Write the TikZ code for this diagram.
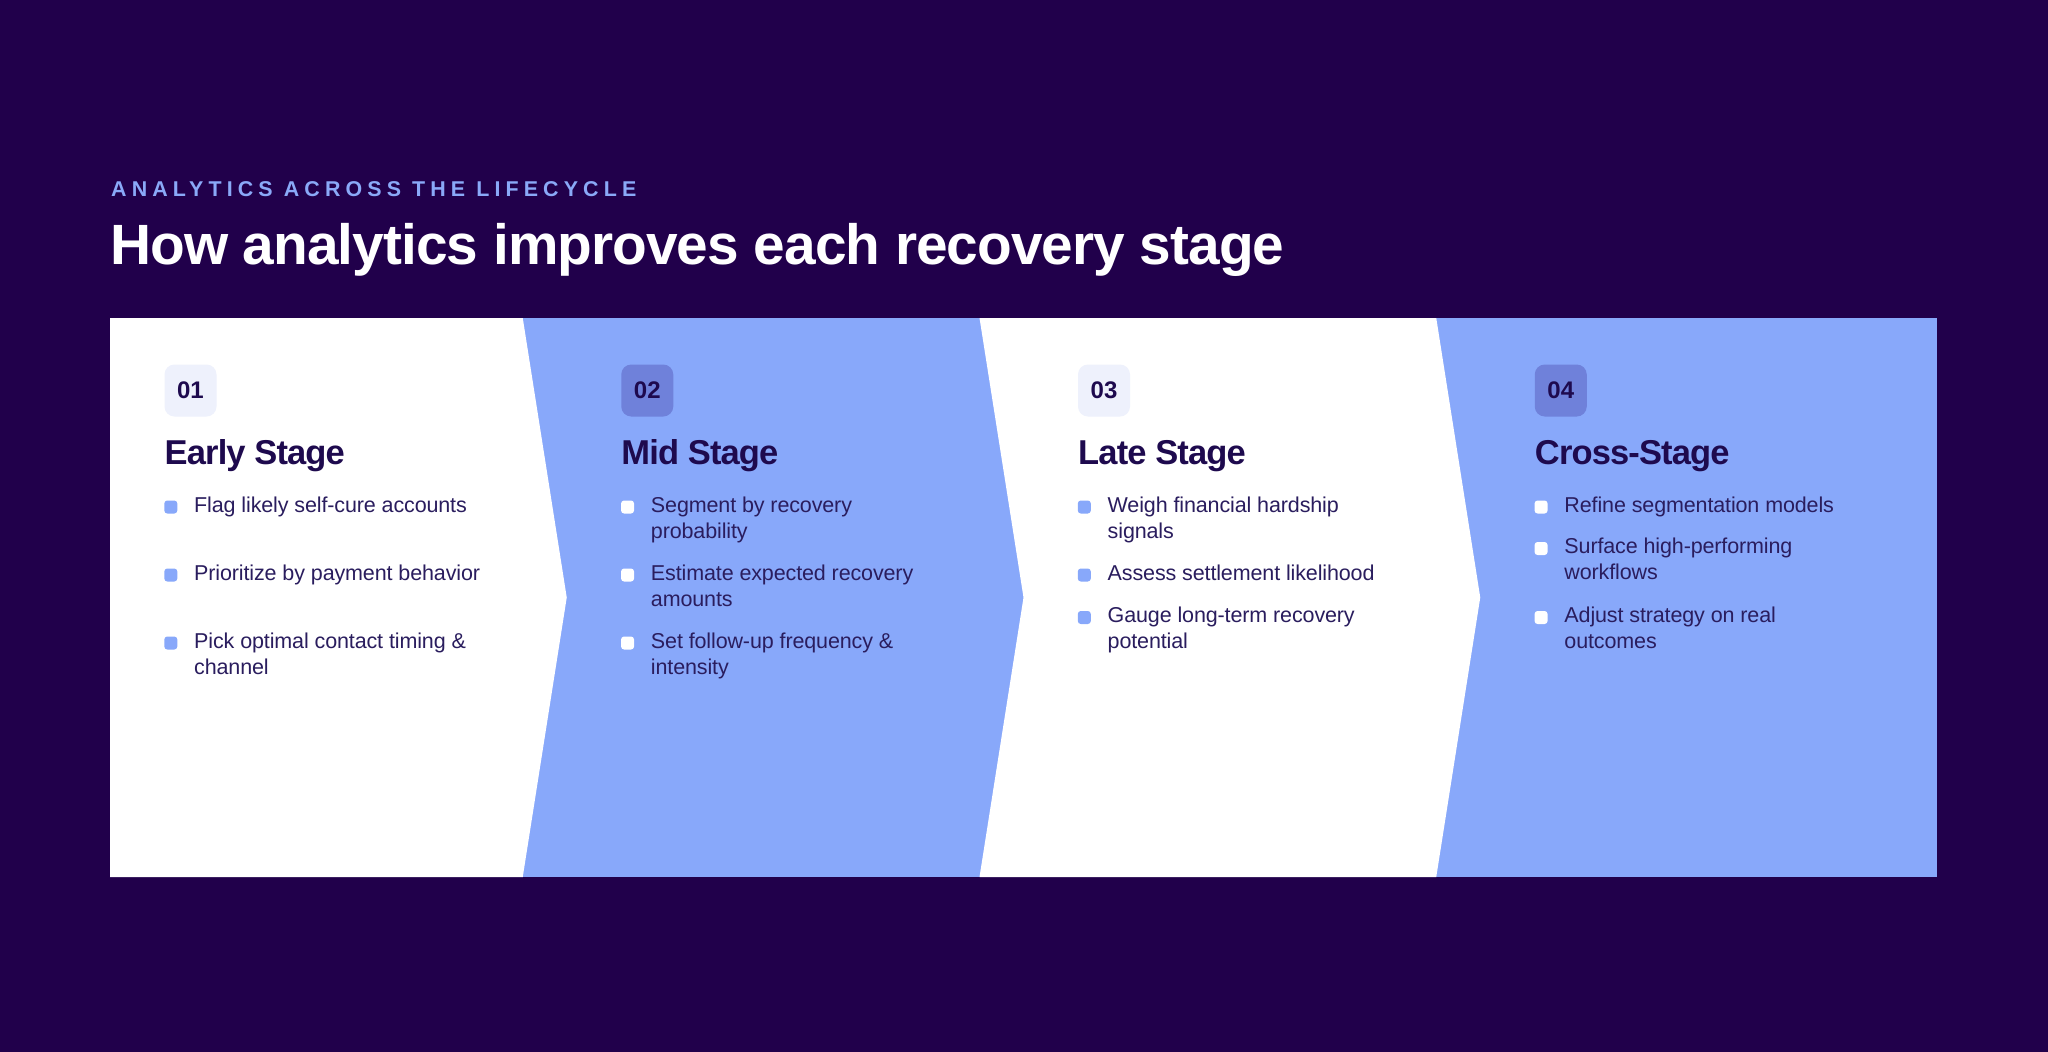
\documentclass[tikz,border=0pt]{standalone}
\usepackage{fontspec}
\setmainfont{Liberation Sans}
\definecolor{bg}{HTML}{21004B}
\definecolor{blu}{HTML}{88A8FA}
\definecolor{ink}{HTML}{1E0A4E}
\definecolor{bodyc}{HTML}{2A1D5E}
\definecolor{badgeL}{HTML}{EEF1FC}
\definecolor{badgeD}{HTML}{6F81DA}
\definecolor{kicker}{HTML}{8AA9F8}
\tikzset{
  bodytxt/.style={anchor=base west, inner sep=0pt, text=bodyc, font=\fontsize{21.5}{26}\selectfont\addfontfeature{LetterSpace=-0.6}},
  stagetitle/.style={anchor=base west, inner sep=0pt, text=ink, font=\bfseries\fontsize{34.5}{40}\selectfont\addfontfeature{LetterSpace=-2.5}},
  badgebox/.style={minimum width=52pt, minimum height=52pt, inner sep=0pt, rounded corners=10pt, text=ink, font=\bfseries\fontsize{24}{28}\selectfont},
  bulsq/.style={minimum width=13pt, minimum height=13pt, inner sep=0pt, rounded corners=3pt},
}
\begin{document}
\begin{tikzpicture}[x=1pt,y=-1pt]
\fill[bg] (0,0) rectangle (2048,1052);
\useasboundingbox (0,0) rectangle (2048,1052);
% panel
\fill[blu] (110,318) rectangle (1937,877);
\fill[white] (110,318) -- (522.75,318) -- (566.75,597.5) -- (522.75,877) -- (110,877) -- cycle;
\fill[white] (979.5,318) -- (1436.25,318) -- (1480.25,597.5) -- (1436.25,877) -- (979.5,877) -- (1023.5,597.5) -- cycle;
% header
\node[anchor=base west, inner sep=0pt, text=kicker, font=\bfseries\fontsize{21.4}{24}\selectfont\addfontfeature{LetterSpace=24}] (kick) at (111,196) {ANALYTICS ACROSS THE LIFECYCLE};
\node[anchor=base west, inner sep=0pt, text=white, font=\bfseries\fontsize{56.8}{62}\selectfont\addfontfeature{LetterSpace=-1.7}] (title) at (110,264) {How analytics improves each recovery stage};
% column 1
\node[badgebox, fill=badgeL] (bd1) at (190.5,390.5) {01};
\node[stagetitle] (t1) at (164.5,464) {Early Stage};
\node[bulsq, fill=blu] (s11) at (170.8,507) {};
\node[bodytxt] (l11) at (194,512) {Flag likely self-cure accounts};
\node[bulsq, fill=blu] (s12) at (170.8,575) {};
\node[bodytxt] (l12) at (194,580) {Prioritize by payment behavior};
\node[bulsq, fill=blu] (s13) at (170.8,643) {};
\node[bodytxt] (l13) at (194,648) {Pick optimal contact timing \&};
\node[bodytxt] (l13b) at (194,674) {channel};
% column 2
\node[badgebox, fill=badgeD] (bd2) at (647.25,390.5) {02};
\node[stagetitle] (t2) at (621.25,464) {Mid Stage};
\node[bulsq, fill=white] (s21) at (627.55,507) {};
\node[bodytxt] (l21) at (650.75,512) {Segment by recovery};
\node[bodytxt] (l21b) at (650.75,538) {probability};
\node[bulsq, fill=white] (s22) at (627.55,575) {};
\node[bodytxt] (l22) at (650.75,580) {Estimate expected recovery};
\node[bodytxt] (l22b) at (650.75,606) {amounts};
\node[bulsq, fill=white] (s23) at (627.55,643) {};
\node[bodytxt] (l23) at (650.75,648) {Set follow-up frequency \&};
\node[bodytxt] (l23b) at (650.75,674) {intensity};
% column 3
\node[badgebox, fill=badgeL] (bd3) at (1104,390.5) {03};
\node[stagetitle] (t3) at (1078,464) {Late Stage};
\node[bulsq, fill=blu] (s31) at (1084.3,507) {};
\node[bodytxt] (l31) at (1107.5,512) {Weigh financial hardship};
\node[bodytxt] (l31b) at (1107.5,538) {signals};
\node[bulsq, fill=blu] (s32) at (1084.3,575) {};
\node[bodytxt] (l32) at (1107.5,580) {Assess settlement likelihood};
\node[bulsq, fill=blu] (s33) at (1084.3,617.5) {};
\node[bodytxt] (l33) at (1107.5,622.5) {Gauge long-term recovery};
\node[bodytxt] (l33b) at (1107.5,648) {potential};
% column 4
\node[badgebox, fill=badgeD] (bd4) at (1560.75,390.5) {04};
\node[stagetitle] (t4) at (1534.75,464) {Cross-Stage};
\node[bulsq, fill=white] (s41) at (1541.05,507) {};
\node[bodytxt] (l41) at (1564.25,512) {Refine segmentation models};
\node[bulsq, fill=white] (s42) at (1541.05,548.5) {};
\node[bodytxt] (l42) at (1564.25,553.5) {Surface high-performing};
\node[bodytxt] (l42b) at (1564.25,579) {workflows};
\node[bulsq, fill=white] (s43) at (1541.05,617.5) {};
\node[bodytxt] (l43) at (1564.25,622.5) {Adjust strategy on real};
\node[bodytxt] (l43b) at (1564.25,648) {outcomes};
\end{tikzpicture}
\end{document}
